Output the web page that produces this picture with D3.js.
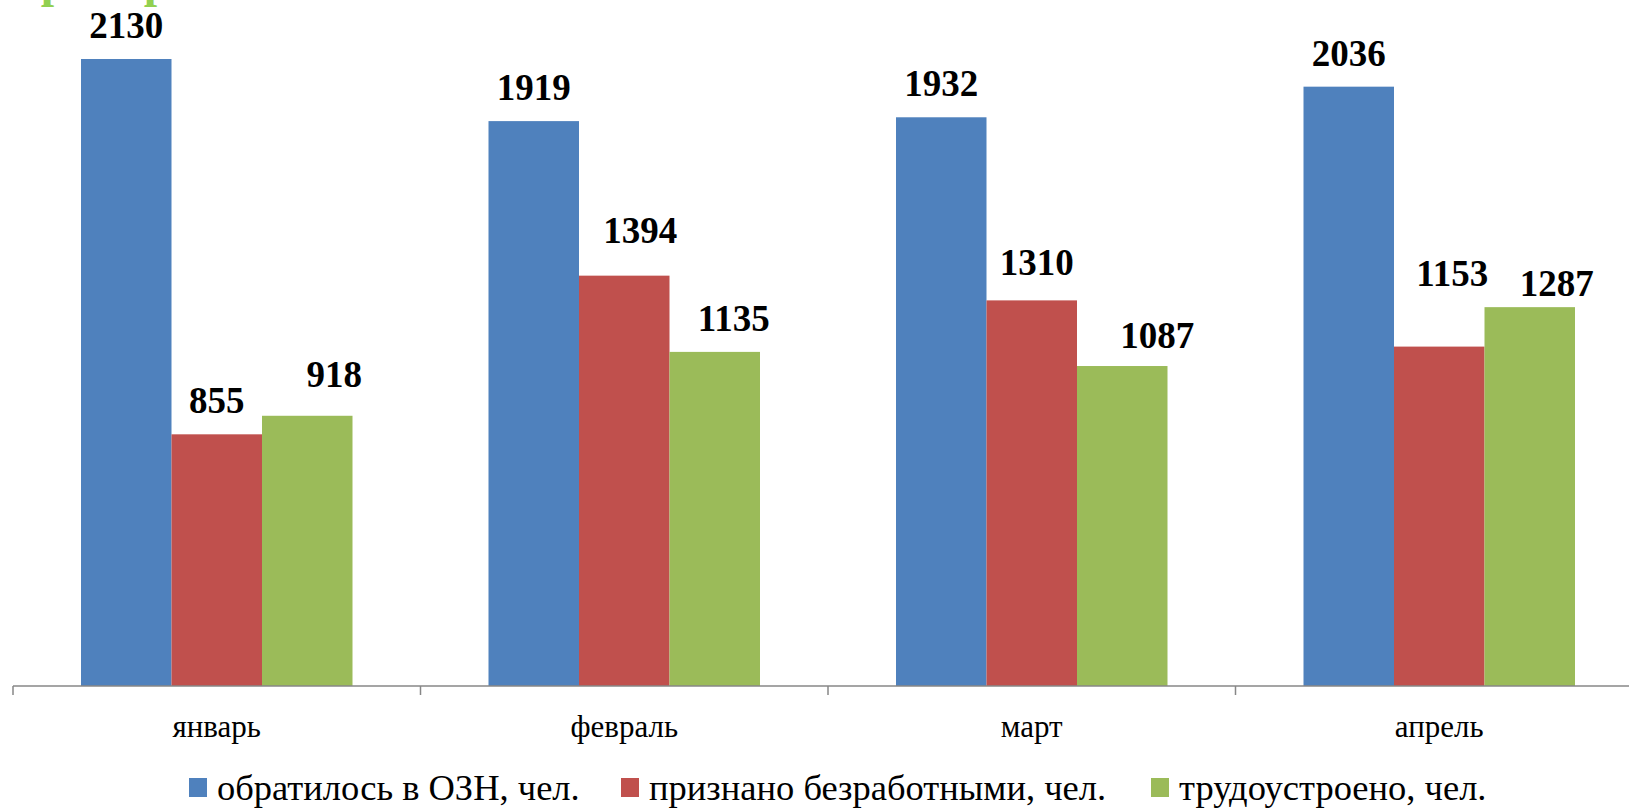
<!DOCTYPE html>
<html>
<head>
<meta charset="utf-8">
<script src="https://cdnjs.cloudflare.com/ajax/libs/d3/7.8.5/d3.min.js"></script>
<style>
html, body { margin: 0; padding: 0; background: #fff; overflow: hidden; }
svg { display: block; }
text { font-family: "Liberation Serif", "Times New Roman", serif; }
</style>
</head>
<body>
<svg id="chart" width="1629" height="809"></svg>
<script>
const categories = ["январь", "февраль", "март", "апрель"];
const seriesNames = ["обратилось в ОЗН, чел.", "признано безработными, чел.", "трудоустроено, чел."];
const seriesApplied = [2130, 1919, 1932, 2036];
const seriesUnemployed = [855, 1394, 1310, 1153];
const seriesEmployed = [918, 1135, 1087, 1287];
const colors = ["#4F81BD", "#C0504D", "#9BBB59"];

// manual nudges of data labels (layout only), [category][series] -> [dx, dy]
const labelNudge = [
  [[0, 0], [0, 0], [27, -8]],
  [[0, 0], [16, -12], [19, 0]],
  [[0, 0], [5, -4], [35, 3]],
  [[0, 0], [13, -40], [27, 10]]
];

const allSeries = [seriesApplied, seriesUnemployed, seriesEmployed];

const svg = d3.select("#chart");
const baseY = 686;

const x = d3.scaleBand().domain(categories).range([13, 1643]).padding(0);
const y = d3.scaleLinear().domain([0, 2500]).range([baseY, baseY - 2500 * (627 / 2130)]);
const inner = d3.scaleBand().domain(d3.range(seriesNames.length))
  .range([68, x.bandwidth() - 68]).padding(0);

// clipped title remnant at top
svg.append("text")
  .attr("y", -3)
  .attr("font-size", 48)
  .attr("font-weight", "bold")
  .attr("fill", "#92D050")
  .selectAll("tspan").data([54, 157]).join("tspan")
  .attr("x", d => d).attr("text-anchor", "middle").text("р");

const groups = svg.append("g").selectAll("g").data(categories).join("g")
  .attr("transform", d => `translate(${x(d)},0)`);

groups.each(function(cat, ci) {
  const g = d3.select(this);
  allSeries.forEach((s, si) => {
    const v = s[ci];
    g.append("rect")
      .attr("x", inner(si))
      .attr("y", y(v))
      .attr("width", inner.bandwidth())
      .attr("height", baseY - y(v))
      .attr("fill", colors[si]);
  });
  allSeries.forEach((s, si) => {
    const v = s[ci];
    const [dx, dy] = labelNudge[ci][si];
    g.append("text")
      .attr("x", inner(si) + inner.bandwidth() / 2 + dx)
      .attr("y", y(v) - 21 + dy)
      .attr("text-anchor", "middle")
      .attr("font-size", 37)
      .attr("font-weight", "bold")
      .attr("fill", "#000")
      .text(v);
  });
});

// x axis
const axisG = svg.append("g").attr("transform", `translate(0,${baseY})`);
axisG.append("line")
  .attr("x1", x.range()[0]).attr("x2", x.range()[1])
  .attr("y1", 0).attr("y2", 0)
  .attr("stroke", "#878787").attr("stroke-width", 1.5);
const tickPos = categories.map(c => x(c)).concat([x.range()[1]]);
axisG.selectAll("line.tick").data(tickPos).join("line")
  .attr("class", "tick")
  .attr("x1", d => d).attr("x2", d => d)
  .attr("y1", 0).attr("y2", 9)
  .attr("stroke", "#878787").attr("stroke-width", 1.5);
axisG.selectAll("text").data(categories).join("text")
  .attr("x", d => x(d) + x.bandwidth() / 2)
  .attr("y", 51)
  .attr("text-anchor", "middle")
  .attr("font-size", 31)
  .attr("fill", "#000")
  .text(d => d);

// legend
const legendX = [189, 621, 1151];
const leg = svg.append("g").selectAll("g").data(seriesNames).join("g")
  .attr("transform", (d, i) => `translate(${legendX[i]},0)`);
leg.append("rect")
  .attr("x", 0).attr("y", 778).attr("width", 18).attr("height", 19)
  .attr("fill", (d, i) => colors[i]);
leg.append("text")
  .attr("x", 28).attr("y", 800)
  .attr("font-size", 36.5)
  .attr("fill", "#000")
  .text(d => d);
</script>
</body>
</html>
